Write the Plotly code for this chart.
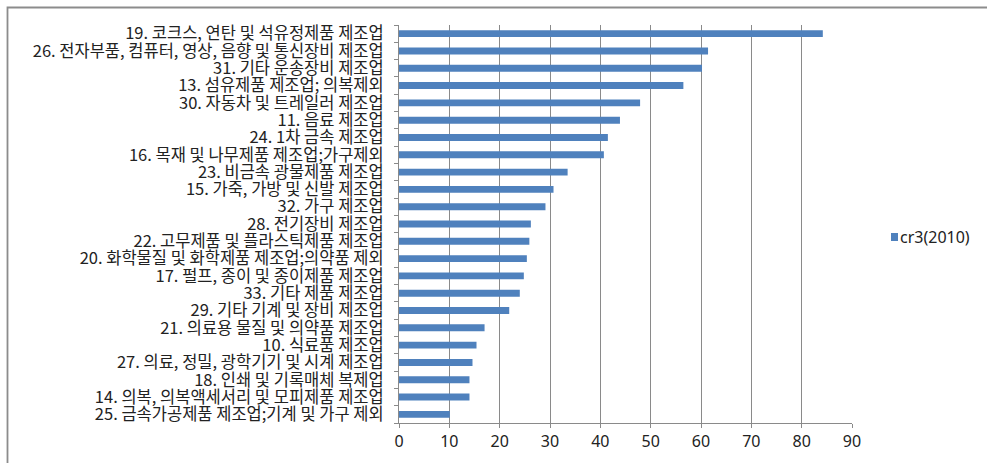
import plotly.graph_objects as go

# Industries (top to bottom) and their CR3 concentration ratio, 2010
industries = [
    "19. 코크스, 연탄 및 석유정제품 제조업",
    "26. 전자부품, 컴퓨터, 영상, 음향 및 통신장비 제조업",
    "31. 기타 운송장비 제조업",
    "13. 섬유제품 제조업; 의복제외",
    "30. 자동차 및 트레일러 제조업",
    "11. 음료 제조업",
    "24. 1차 금속 제조업",
    "16. 목재 및 나무제품 제조업;가구제외",
    "23. 비금속 광물제품 제조업",
    "15. 가죽, 가방 및 신발 제조업",
    "32. 가구 제조업",
    "28. 전기장비 제조업",
    "22. 고무제품 및 플라스틱제품 제조업",
    "20. 화학물질 및 화학제품 제조업;의약품 제외",
    "17. 펄프, 종이 및 종이제품 제조업",
    "33. 기타 제품 제조업",
    "29. 기타 기계 및 장비 제조업",
    "21. 의료용 물질 및 의약품 제조업",
    "10. 식료품 제조업",
    "27. 의료, 정밀, 광학기기 및 시계 제조업",
    "18. 인쇄 및 기록매체 복제업",
    "14. 의복, 의복액세서리 및 모피제품 제조업",
    "25. 금속가공제품 제조업;기계 및 가구 제외",
]
cr3_2010 = [84.2, 61.4, 60.2, 56.5, 47.9, 43.9, 41.5, 40.7, 33.5, 30.7, 29.1,
            26.2, 25.9, 25.4, 24.8, 24.0, 21.9, 17.0, 15.4, 14.6, 14.0, 14.0, 10.1]
x_ticks = [0, 10, 20, 30, 40, 50, 60, 70, 80, 90]
series_name = "cr3(2010)"

BAR_COLOR = "#4F81BD"
W, H = 987, 463
L, R, T, B = 399, 852, 25, 423  # plot-area edges in pixels

def px_to_paper_x(p):
    return (p - L) / (R - L)

def px_to_paper_y(p):
    return (B - p) / (B - T)

# chart-frame outline: only the top and left edges fall inside the page
fx0, fy0 = px_to_paper_x(7.5), px_to_paper_y(7.5)
fx1, fy1 = px_to_paper_x(W + 5), px_to_paper_y(H + 5)
frame_path = f"M {fx0},{fy1} L {fx0},{fy0} L {fx1},{fy0}"

fig = go.Figure(
    go.Bar(
        x=cr3_2010,
        y=industries,
        orientation="h",
        name=series_name,
        marker=dict(color=BAR_COLOR, line=dict(width=0)),
        showlegend=False,
    )
)

# compact legend key to the right of the plot: colour swatch + series name
fig.add_shape(
    type="rect",
    xref="paper", yref="paper",
    x0=px_to_paper_x(891), x1=px_to_paper_x(898),
    y0=px_to_paper_y(241), y1=px_to_paper_y(233),
    fillcolor=BAR_COLOR,
    line=dict(width=0),
)
fig.add_annotation(
    text=series_name,
    xref="paper", yref="paper",
    x=px_to_paper_x(898), y=px_to_paper_y(237),
    xanchor="left", yanchor="middle",
    showarrow=False,
    font=dict(size=16, family="Noto Sans, sans-serif", color="#222222"),
)

fig.update_layout(
    width=W,
    height=H,
    margin=dict(l=L, r=W - R, t=T, b=H - B),
    paper_bgcolor="white",
    plot_bgcolor="white",
    bargap=0.6,
    showlegend=False,
    font=dict(family="Noto Sans CJK KR, Noto Sans, sans-serif", color="#222222"),
)
fig.add_shape(
    type="path",
    path=frame_path,
    xref="paper", yref="paper",
    line=dict(color="#8c8c8c", width=1.8),
    layer="below",
)

fig.update_xaxes(
    range=[0, 90],
    tickvals=x_ticks,
    ticktext=[str(v) for v in x_ticks],
    showgrid=True,
    gridcolor="#8a8a8a",
    gridwidth=1,
    showline=True,
    linecolor="#8a8a8a",
    ticks="outside",
    ticklen=4,
    tickcolor="#8a8a8a",
    tickfont=dict(size=16, family="Noto Sans, sans-serif", color="#222222"),
    zeroline=False,
    automargin=False,
)

fig.update_yaxes(
    categoryorder="array",
    categoryarray=industries,
    autorange="reversed",
    tickmode="array",
    tickvals=industries,
    ticktext=industries,
    showgrid=False,
    showline=True,
    linecolor="#8a8a8a",
    ticks="outside",
    tickson="boundaries",
    ticklen=4,
    tickcolor="#8a8a8a",
    tickfont=dict(size=16.5, family="Noto Sans CJK KR", color="#222222"),
    ticklabelstandoff=11,
    automargin=False,
)

fig.write_html("out.html")
